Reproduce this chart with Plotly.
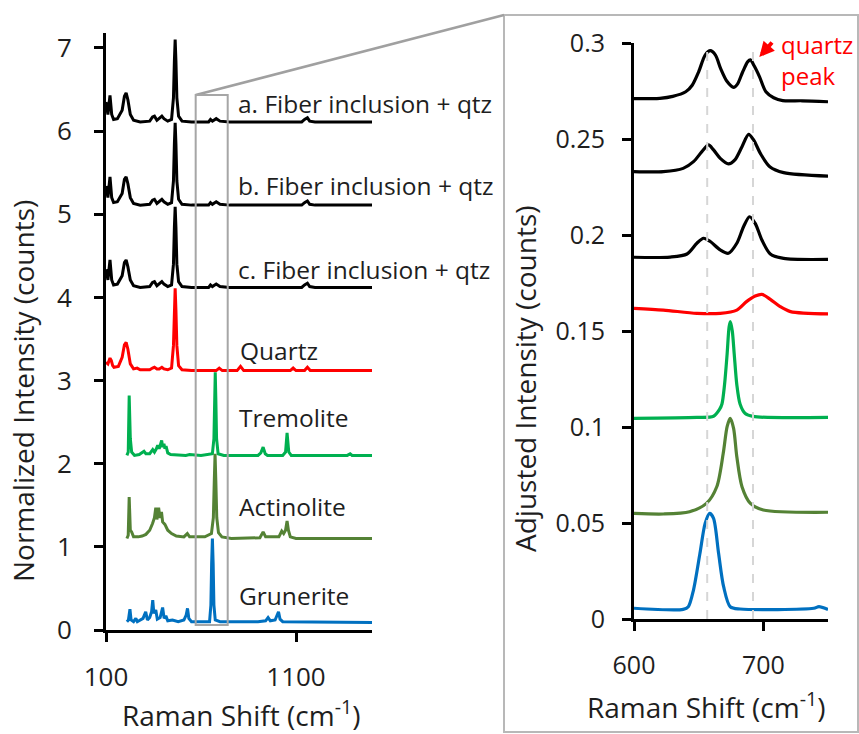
import plotly.graph_objects as go

# ---------------- Left panel: full spectra (Raman shift cm-1, normalized intensity) -------------
fiber_x = [100, 110, 121, 130, 140, 160, 185, 197, 206, 215, 228, 245, 280, 330, 345, 355, 368, 380,
           394, 405, 425, 445, 455, 460, 464, 468, 473, 482, 500, 550, 640, 650, 660, 680, 700, 750,
           900, 1130, 1145, 1160, 1172, 1200, 1500]
fiber_a_y = [6.35, 6.20, 6.43, 6.20, 6.14, 6.15, 6.25, 6.42, 6.46, 6.38, 6.20, 6.13, 6.11, 6.12, 6.17,
             6.18, 6.13, 6.15, 6.18, 6.15, 6.12, 6.14, 6.40, 6.85, 7.10, 6.85, 6.40, 6.18, 6.12, 6.11,
             6.11, 6.14, 6.12, 6.15, 6.12, 6.11, 6.11, 6.11, 6.14, 6.16, 6.12, 6.11, 6.11]
fiber_b_y = [5.34, 5.20, 5.45, 5.20, 5.14, 5.15, 5.25, 5.42, 5.45, 5.37, 5.20, 5.13, 5.11, 5.12, 5.17,
             5.18, 5.13, 5.15, 5.18, 5.15, 5.12, 5.14, 5.40, 5.85, 6.10, 5.85, 5.40, 5.18, 5.12, 5.11,
             5.11, 5.14, 5.12, 5.15, 5.12, 5.11, 5.11, 5.11, 5.14, 5.16, 5.12, 5.11, 5.11]
fiber_c_y = [4.34, 4.21, 4.45, 4.21, 4.15, 4.16, 4.26, 4.42, 4.45, 4.37, 4.21, 4.14, 4.12, 4.13, 4.18,
             4.19, 4.14, 4.16, 4.19, 4.16, 4.13, 4.15, 4.40, 4.85, 5.09, 4.85, 4.40, 4.19, 4.13, 4.12,
             4.12, 4.15, 4.13, 4.16, 4.13, 4.12, 4.12, 4.12, 4.15, 4.17, 4.13, 4.12, 4.12]

quartz_x = [100, 110, 121, 128, 135, 142, 165, 185, 197, 206, 215, 228, 245, 264, 280, 330, 345, 355,
            368, 380, 394, 405, 425, 445, 455, 460, 464, 468, 473, 482, 500, 550, 680, 696, 712, 790,
            808, 825, 1070, 1085, 1100, 1145, 1160, 1175, 1500]
quartz_y = [3.22, 3.20, 3.27, 3.24, 3.18, 3.16, 3.17, 3.28, 3.43, 3.46, 3.38, 3.20, 3.14, 3.15, 3.13,
            3.13, 3.15, 3.16, 3.14, 3.14, 3.16, 3.14, 3.13, 3.15, 3.42, 3.85, 4.11, 3.85, 3.42, 3.18,
            3.13, 3.12, 3.12, 3.15, 3.12, 3.12, 3.17, 3.12, 3.12, 3.15, 3.12, 3.12, 3.16, 3.12, 3.12]

trem_x = [210, 217, 222, 228, 235, 250, 275, 290, 300, 310, 330, 346, 355, 365, 372, 380, 388, 393,
          398, 405, 410, 416, 425, 440, 520, 540, 600, 660, 668, 672, 675, 678, 682, 690, 720, 900,
          915, 927, 938, 950, 1030, 1045, 1053, 1062, 1075, 1370, 1385, 1395, 1500]
trem_y = [2.10, 2.14, 2.82, 2.30, 2.14, 2.10, 2.11, 2.14, 2.15, 2.12, 2.12, 2.17, 2.14, 2.18, 2.22,
          2.18, 2.24, 2.28, 2.20, 2.24, 2.18, 2.21, 2.13, 2.11, 2.10, 2.11, 2.10, 2.12, 2.30, 2.80,
          3.10, 2.80, 2.30, 2.12, 2.10, 2.10, 2.13, 2.20, 2.12, 2.10, 2.10, 2.14, 2.37, 2.14, 2.10,
          2.10, 2.12, 2.10, 2.10]

actin_x = [210, 217, 222, 228, 235, 245, 270, 290, 310, 330, 345, 355, 362, 368, 377, 384, 392, 398,
           410, 425, 445, 470, 510, 528, 540, 620, 655, 665, 670, 674, 678, 683, 692, 710, 760, 910,
           927, 940, 1010, 1025, 1035, 1045, 1053, 1060, 1070, 1100, 1500]
actin_y = [1.10, 1.14, 1.60, 1.20, 1.18, 1.12, 1.12, 1.13, 1.15, 1.20, 1.28, 1.35, 1.47, 1.33, 1.47,
           1.35, 1.42, 1.30, 1.27, 1.20, 1.16, 1.13, 1.12, 1.16, 1.12, 1.12, 1.16, 1.35, 1.80, 2.12,
           1.80, 1.35, 1.17, 1.12, 1.10, 1.11, 1.18, 1.12, 1.12, 1.19, 1.16, 1.20, 1.31, 1.20, 1.12,
           1.10, 1.10]

gru_x = [210, 218, 226, 232, 245, 257, 265, 280, 295, 309, 318, 330, 340, 346, 352, 362, 370, 385,
         398, 406, 415, 425, 450, 480, 510, 522, 529, 536, 550, 645, 652, 656, 660, 664, 668, 675,
         700, 900, 940, 953, 965, 990, 1000, 1008, 1016, 1030, 1500]
gru_y = [0.10, 0.12, 0.25, 0.12, 0.10, 0.14, 0.10, 0.12, 0.14, 0.22, 0.12, 0.15, 0.22, 0.36, 0.20,
         0.24, 0.13, 0.15, 0.27, 0.14, 0.17, 0.11, 0.12, 0.10, 0.12, 0.18, 0.26, 0.14, 0.10, 0.10,
         0.30, 0.80, 1.10, 0.80, 0.30, 0.12, 0.10, 0.10, 0.11, 0.15, 0.11, 0.12, 0.18, 0.22, 0.13,
         0.10, 0.09]

left_labels = ["a. Fiber inclusion + qtz", "b. Fiber inclusion + qtz", "c. Fiber inclusion + qtz",
               "Quartz", "Tremolite", "Actinolite", "Grunerite"]
left_label_x = [784, 784, 784, 795, 789, 789, 789]
left_label_y = [6.33, 5.34, 4.34, 3.36, 2.55, 1.48, 0.42]
left_yticks = [0, 1, 2, 3, 4, 5, 6, 7]
left_xticks = [100, 1100]

# ---------------- Right panel: zoom 600-750 cm-1 (adjusted intensity) ----------------
za_x = [600, 620, 630, 640, 645, 650, 655, 659, 663, 667, 672, 677, 680, 684, 688, 690, 693, 697,
        702, 708, 715, 730, 750]
za_y = [0.2710, 0.2712, 0.2722, 0.2746, 0.2780, 0.2850, 0.2937, 0.2960, 0.2937, 0.2867, 0.2799,
        0.2769, 0.2786, 0.2849, 0.2903, 0.2912, 0.2880, 0.2825, 0.2746, 0.2715, 0.2700, 0.2699,
        0.2694]
zb_x = [600, 622.7, 638, 646, 652.5, 657.6, 661.5, 666.7, 673, 678, 683.5, 688.6, 692.5, 697.7,
        705, 715.7, 750]
zb_y = [0.2330, 0.2330, 0.2347, 0.2382, 0.2434, 0.2469, 0.2443, 0.2399, 0.2370, 0.2391, 0.2460,
        0.2524, 0.2495, 0.2425, 0.2356, 0.2325, 0.2307]
zc_x = [600, 628, 641, 648.6, 653.8, 659, 666.7, 673, 679.5, 684.7, 689.3, 693.7, 698.9, 705.4,
        715.7, 750]
zc_y = [0.1884, 0.1885, 0.1901, 0.1957, 0.1983, 0.1966, 0.1922, 0.1905, 0.1957, 0.2043, 0.2095,
        0.2061, 0.1974, 0.1901, 0.1878, 0.1873]
zq_x = [600, 622.7, 648.6, 666.7, 679.5, 687, 693.7, 698.9, 705.4, 713, 721, 750]
zq_y = [0.1618, 0.1609, 0.1592, 0.1592, 0.1609, 0.1653, 0.1682, 0.1691, 0.1665, 0.1627, 0.1601,
        0.1589]
zt_x = [600, 648.6, 661.5, 666, 668, 670, 672, 673.5, 674.5, 676, 677.5, 679.5, 682, 686, 692, 750]
zt_y = [0.1045, 0.1050, 0.1056, 0.1090, 0.1120, 0.1220, 0.1380, 0.1520, 0.1549, 0.1500, 0.1380,
        0.1220, 0.1120, 0.1070, 0.1055, 0.1050]
zact_x = [600, 622.7, 643, 656, 664, 669, 672, 674.4, 677, 679.5, 683.5, 690, 700, 750]
zact_y = [0.0550, 0.0547, 0.0559, 0.0602, 0.0689, 0.0863, 0.1002, 0.1045, 0.0993, 0.0845, 0.0689,
          0.0602, 0.0568, 0.0556]
zg_x = [600, 638, 642, 646, 651, 655, 658.5, 661.5, 665.4, 669.3, 674.4, 682, 739, 743, 750]
zg_y = [0.0056, 0.0050, 0.0064, 0.0151, 0.0342, 0.0498, 0.0550, 0.0524, 0.0342, 0.0168, 0.0064,
        0.0052, 0.0056, 0.0064, 0.0050]
right_yticks = [0, 0.05, 0.1, 0.15, 0.2, 0.25, 0.3]
right_yticklabels = ["0", "0.05", "0.1", "0.15", "0.2", "0.25", "0.3"]
right_xticks = [600, 700]
guide_x = [656.6, 692]

BLACK, RED, TREM, ACT, GRU = "#000000", "#FF0000", "#00B050", "#548235", "#0070C0"
FONT = "Open Sans"
TXT = "#1e1e1e"

W, H = 859, 734
def px(x):
    return x / W
def py(y):
    return 1 - y / H

fig = go.Figure()

left_series = [(fiber_x, fiber_a_y, BLACK), (fiber_x, fiber_b_y, BLACK), (fiber_x, fiber_c_y, BLACK),
               (quartz_x, quartz_y, RED), (trem_x, trem_y, TREM), (actin_x, actin_y, ACT),
               (gru_x, gru_y, GRU)]
for xs, ys, c in left_series:
    fig.add_trace(go.Scatter(x=xs, y=ys, mode="lines", line=dict(color=c, width=3),
                             xaxis="x", yaxis="y", showlegend=False, hoverinfo="skip"))

right_series = [(za_x, za_y, BLACK), (zb_x, zb_y, BLACK), (zc_x, zc_y, BLACK), (zq_x, zq_y, RED),
                (zt_x, zt_y, TREM), (zact_x, zact_y, ACT), (zg_x, zg_y, GRU)]
for xs, ys, c in right_series:
    fig.add_trace(go.Scatter(x=xs, y=ys, mode="lines", line=dict(color=c, width=3.2, shape="spline",
                                                                   smoothing=0.8),
                             xaxis="x2", yaxis="y2", showlegend=False, hoverinfo="skip"))

def axis_common(size):
    return dict(showgrid=False, zeroline=False, showline=True, linecolor="black", linewidth=3,
                ticks="outside", tickcolor="black", tickwidth=2.5, ticklen=9, automargin=False,
                tickfont=dict(family=FONT, size=size, color=TXT), fixedrange=True)

fig.update_layout(
    width=W, height=H, margin=dict(l=0, r=0, t=0, b=0, pad=0, autoexpand=False),
    paper_bgcolor="white", plot_bgcolor="rgba(0,0,0,0)",
    xaxis=dict(domain=[px(106), px(372)], range=[100, 1500], tickvals=left_xticks,
               anchor="y", ticklabelstandoff=13, **axis_common(26)),
    yaxis=dict(domain=[py(630), py(33)], range=[0, 7.18], tickvals=left_yticks,
               anchor="x", ticklabelstandoff=17, **axis_common(26)),
    xaxis2=dict(domain=[px(634), px(828)], range=[600, 750], tickvals=right_xticks,
                anchor="y2", ticklabelstandoff=13, **axis_common(25)),
    yaxis2=dict(domain=[py(619), py(43)], range=[0, 0.3], tickvals=right_yticks,
                ticktext=right_yticklabels, anchor="x2", ticklabelstandoff=12, **axis_common(25)),
)

shapes = []
# inset frame and connector
shapes.append(dict(type="rect", xref="paper", yref="paper", x0=px(504), x1=px(858), y0=py(732),
                   y1=py(15), line=dict(color="#B8B8B8", width=2), layer="below"))
shapes.append(dict(type="line", xref="paper", yref="paper", x0=px(195.7), y0=py(95), x1=px(504),
                   y1=py(15), line=dict(color="#A0A0A0", width=2.5)))
# zoom box on left panel
shapes.append(dict(type="rect", xref="x", yref="y", x0=572, x1=740.5, y0=0.06, y1=6.435,
                   line=dict(color="#A6A6A6", width=2)))
# dashed guides on right panel
for gx in guide_x:
    shapes.append(dict(type="line", xref="x2", yref="y2", x0=gx, x1=gx, y0=0, y1=0.303,
                       line=dict(color="#D6D6D6", width=2, dash="dash")))
fig.update_layout(shapes=shapes)

ann = []
for t, lx, ly in zip(left_labels, left_label_x, left_label_y):
    ann.append(dict(text=t, x=lx, y=ly, xref="x", yref="y", xanchor="left", yanchor="middle",
                    showarrow=False, font=dict(family=FONT, size=24.5, color=TXT)))
title_font = dict(family=FONT, size=28, color=TXT)
ann.append(dict(text="Normalized Intensity (counts)", x=px(23), y=py(391), xref="paper", yref="paper",
                textangle=-90, showarrow=False, font=title_font, xanchor="center", yanchor="middle"))
ann.append(dict(text="Raman Shift (cm<sup>-1</sup>)", x=px(241), y=py(713), xref="paper", yref="paper",
                showarrow=False, font=title_font, xanchor="center", yanchor="middle"))
ann.append(dict(text="Adjusted Intensity (counts)", x=px(525), y=py(379), xref="paper", yref="paper",
                textangle=-90, showarrow=False, font=title_font, xanchor="center", yanchor="middle"))
ann.append(dict(text="Raman Shift (cm<sup>-1</sup>)", x=px(706), y=py(705), xref="paper", yref="paper",
                showarrow=False, font=title_font, xanchor="center", yanchor="middle"))
ann.append(dict(text="quartz<br>peak", x=712, y=0.291, xref="x2", yref="y2", xanchor="left",
                yanchor="middle", align="left", showarrow=False,
                font=dict(family=FONT, size=24, color=RED)))
ann.append(dict(text="", x=696.9, y=0.2927, xref="x2", yref="y2", showarrow=True, ax=14, ay=-16,
                arrowhead=2, arrowsize=0.75, arrowwidth=4, arrowcolor=RED, standoff=0))
fig.update_layout(annotations=ann)

fig.write_html("out.html")
